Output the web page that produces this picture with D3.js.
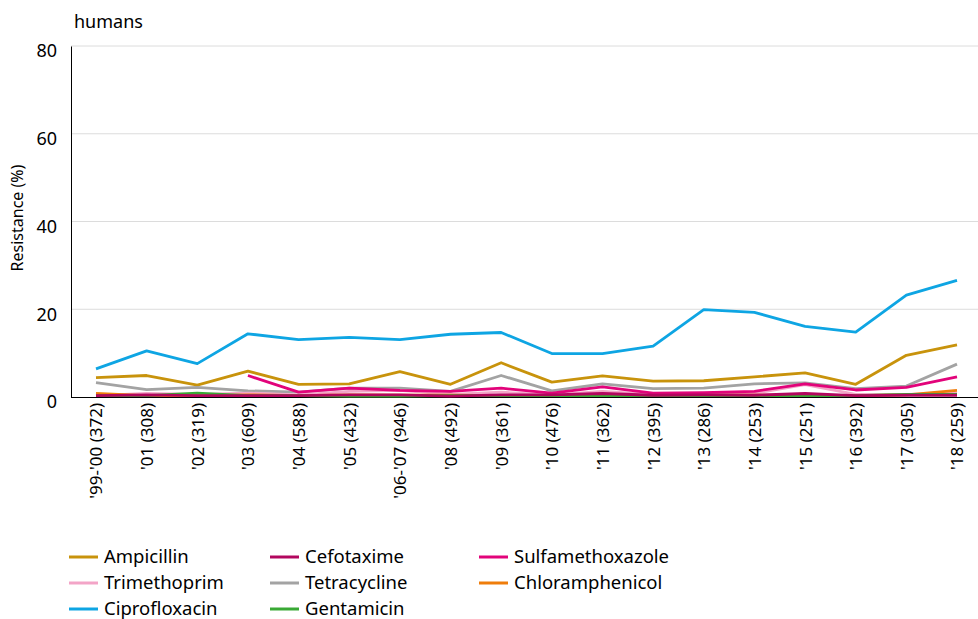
<!DOCTYPE html>
<html><head><meta charset="utf-8">
<script src="https://cdn.jsdelivr.net/npm/d3@7"></script>
<style>
body{margin:0;background:#fff;}
text{font-family:"Noto Sans","Open Sans",sans-serif;fill:#000;}
</style></head>
<body><svg id="chart" width="978" height="619"></svg>
<script>
const categories = ["'99-'00 (372)","'01 (308)","'02 (319)","'03 (609)","'04 (588)","'05 (432)","'06-'07 (946)","'08 (492)","'09 (361)","'10 (476)","'11 (362)","'12 (395)","'13 (286)","'14 (253)","'15 (251)","'16 (392)","'17 (305)","'18 (259)"];
const ampicillin = [4.4,4.9,2.7,5.9,2.9,3.0,5.8,2.9,7.8,3.4,4.8,3.6,3.7,4.6,5.5,2.9,9.5,11.9];
const cefotaxime = [0.3,0.5,0.3,0.3,0.3,0.5,0.5,0.2,0.5,0.5,0.8,0.4,0.5,0.4,0.8,0.3,0.4,0.4];
const sulfamethoxazole = [null,null,null,4.9,1.1,2.0,1.5,1.3,2.0,0.9,2.3,0.9,1.0,1.3,3.0,1.6,2.2,4.6];
const trimethoprim = [0.3,0.8,0.6,0.9,0.5,1.3,1.5,0.6,1.1,0.5,1.3,0.6,0.8,0.8,2.8,0.6,0.6,0.8];
const tetracycline = [3.3,1.7,2.2,1.4,1.1,2.0,2.0,1.3,4.9,1.4,3.0,1.9,2.0,3.0,3.2,1.9,2.5,7.5];
const chloramphenicol = [0.8,0.3,0.3,0.5,0.3,0.5,0.4,0.4,0.3,0.3,0.3,0.3,0.4,0.4,0.4,0.3,0.5,1.5];
const ciprofloxacin = [6.4,10.5,7.6,14.4,13.1,13.6,13.1,14.3,14.7,9.9,9.9,11.6,19.9,19.3,16.1,14.8,23.2,26.6];
const gentamicin = [0.3,0.3,0.9,0.3,0.3,0.2,0.2,0.3,0.3,0.3,0.3,0.3,0.3,0.3,0.3,0.3,0.6,0.6];
const yTicks = [0,20,40,60,80];

const series = [
  {name:"Ampicillin", values:ampicillin, color:"#c8930c"},
  {name:"Cefotaxime", values:cefotaxime, color:"#b2065e"},
  {name:"Sulfamethoxazole", values:sulfamethoxazole, color:"#e2037a"},
  {name:"Trimethoprim", values:trimethoprim, color:"#f3a4c7"},
  {name:"Tetracycline", values:tetracycline, color:"#a3a3a3"},
  {name:"Chloramphenicol", values:chloramphenicol, color:"#ef7d0b"},
  {name:"Ciprofloxacin", values:ciprofloxacin, color:"#0ea5e3"},
  {name:"Gentamicin", values:gentamicin, color:"#39a935"}
];
const drawOrder = ["Ampicillin","Tetracycline","Ciprofloxacin","Trimethoprim","Chloramphenicol","Gentamicin","Sulfamethoxazole","Cefotaxime"];

(function(){
const svg = d3.select("#chart");
const mLeft = 71, mRight = 978, mTop = 46, mBottom = 397;
const x = d3.scalePoint().domain(categories).range([96, 957]);
const y = d3.scaleLinear().domain([0,80]).range([mBottom, mTop]);

svg.append("g").selectAll("line").data(yTicks.filter(d=>d>0)).join("line")
  .attr("x1", mLeft).attr("x2", mRight).attr("y1", d=>y(d)).attr("y2", d=>y(d))
  .attr("stroke", "#dcdcdc").attr("stroke-width", 1);

const yAxis = svg.append("g").attr("transform", `translate(${mLeft},0)`)
  .call(d3.axisLeft(y).tickValues(yTicks).tickSize(0).tickPadding(14));
yAxis.select(".domain").attr("stroke", "#000").attr("stroke-width", 1);
yAxis.selectAll("text").style("font-size", "18px").attr("dy", "0.6em")
  .style("font-family", "'Noto Sans', sans-serif");

const xAxis = svg.append("g").attr("transform", `translate(0,${mBottom})`)
  .call(d3.axisBottom(x).tickSize(0).tickPadding(6));
xAxis.select(".domain").attr("d", `M${mLeft},0.5H${mRight}`).attr("stroke", "#000").attr("stroke-width", 1.2);
xAxis.selectAll("text")
  .style("font-size", "17px").style("font-family", "'Noto Sans', sans-serif")
  .attr("text-anchor", "end").attr("transform", "rotate(-90)")
  .attr("x", -6).attr("y", 0).attr("dy", "0.35em");

const line = d3.line().defined(d=>d.v!=null).x(d=>x(d.c)).y(d=>y(d.v));
drawOrder.forEach(n=>{
  const s = series.find(t=>t.name===n);
  svg.append("path")
    .datum(categories.map((c,i)=>({c, v:s.values[i]})))
    .attr("d", line).attr("fill","none").attr("stroke", s.color)
    .attr("stroke-width", 2.8).attr("stroke-linejoin","round");
});

svg.append("text").attr("x", 74).attr("y", 28).style("font-size","18px").text("humans");
svg.append("text").attr("transform", "translate(23,218) rotate(-90)")
  .attr("text-anchor","middle").style("font-size","16px").text("Resistance (%)");

const legendCols = [69, 270, 479];
const legendRows = [557, 583, 609];
const lg = svg.append("g");
series.forEach((s,i)=>{
  const cx = legendCols[i%3], cy = legendRows[Math.floor(i/3)];
  lg.append("line").attr("x1", cx).attr("x2", cx+29).attr("y1", cy).attr("y2", cy)
    .attr("stroke", s.color).attr("stroke-width", 3);
  lg.append("text").attr("x", cx+35).attr("y", cy).attr("dy","0.35em")
    .style("font-size","18.5px").text(s.name);
});
})();
</script></body></html>
